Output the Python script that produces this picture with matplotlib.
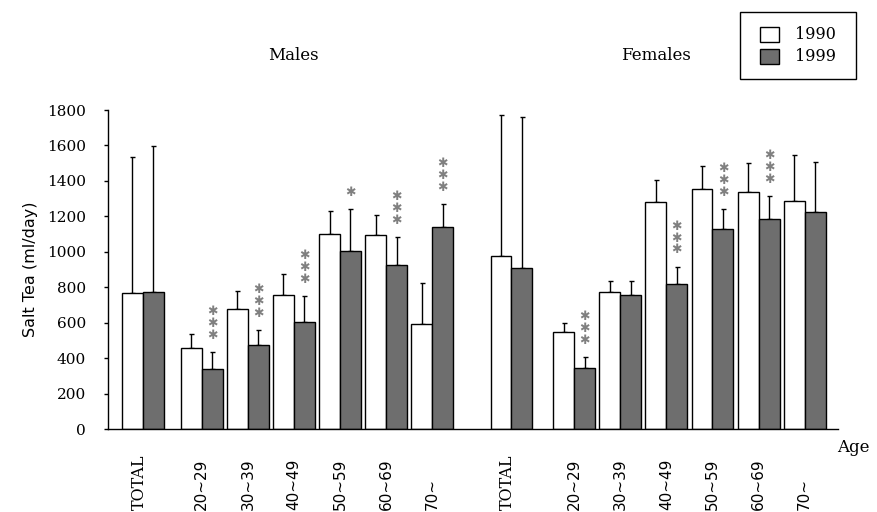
import numpy as np
import matplotlib
matplotlib.use("Agg")
import matplotlib.pyplot as plt
from matplotlib.patches import Rectangle
from matplotlib.transforms import blended_transform_factory

# Salt tea intake (ml/day), means and SDs by sex and age group
groups = ["TOTAL", "20~29", "30~39", "40~49", "50~59", "60~69", "70~"]

male_1990 = [770, 457, 676, 755, 1101, 1097, 592]
male_1990_sd = [763, 78, 102, 122, 130, 111, 231]
male_1999 = [776, 338, 475, 605, 1005, 924, 1140]
male_1999_sd = [821, 99, 85, 148, 235, 158, 130]

female_1990 = [977, 548, 772, 1281, 1353, 1336, 1289]
female_1990_sd = [795, 53, 66, 123, 131, 163, 257]
female_1999 = [909, 347, 755, 819, 1127, 1187, 1223]
female_1999_sd = [853, 62, 83, 98, 113, 126, 282]

# significance of 1990 vs 1999 difference
male_sig = ["", "***", "***", "***", "*", "***", "***"]
female_sig = ["", "***", "", "***", "***", "***", ""]

year_labels = ["1990", "1999"]
dark = "#6e6e6e"

serif = "DejaVu Serif"
sans = "DejaVu Sans"

W, H = 877, 512
fig = plt.figure(figsize=(W / 100, H / 100), dpi=100)
ax = fig.add_axes([108 / W, 82.7 / H, 730 / W, 319.3 / H])

male_pos = np.r_[0.0, 1.28 + np.arange(6)]
female_pos = np.r_[8.0, 9.36 + np.arange(6)]
w = 0.455

def draw_sex(pos, v90, s90, v99, s99, sig):
    x90 = pos - w / 2
    x99 = pos + w / 2
    ax.bar(x90, v90, width=w, color="white", edgecolor="black", linewidth=1.0, zorder=2)
    ax.bar(x99, v99, width=w, color=dark, edgecolor="black", linewidth=1.0, zorder=2)
    for xs, v, s in ((x90, v90, s90), (x99, v99, s99)):
        ax.errorbar(xs, v, yerr=[np.zeros(len(v)), s], fmt="none", ecolor="black",
                    elinewidth=1.0, capsize=1.8, capthick=1.0, zorder=1)
    for x, v, s, mark in zip(x99, v99, s99, sig):
        for i in range(len(mark)):
            ax.annotate("\u2731", xy=(x, v + s), xytext=(0, 12 + i * 8.6),
                        textcoords="offset points", ha="center", va="center",
                        fontsize=9, color="#808080", family=sans,
                        annotation_clip=False)

draw_sex(male_pos, np.array(male_1990), np.array(male_1990_sd),
         np.array(male_1999), np.array(male_1999_sd), male_sig)
draw_sex(female_pos, np.array(female_1990), np.array(female_1990_sd),
         np.array(female_1999), np.array(female_1999_sd), female_sig)

ax.set_xlim(-0.753, 15.083)
ax.set_ylim(0, 1800)
ax.set_yticks(np.arange(0, 1801, 200))
ax.tick_params(axis="y", direction="out", length=3, width=1, pad=13,
               labelsize=11)
for lab in ax.get_yticklabels():
    lab.set_family(serif)
ax.set_xticks([])
for side in ("top", "right"):
    ax.spines[side].set_visible(False)
for side in ("left", "bottom"):
    ax.spines[side].set_linewidth(1.0)

ax.set_ylabel("Salt Tea (ml/day)", family=sans, fontsize=11.5, labelpad=6)

# rotated age-group labels under each pair of bars
trans = blended_transform_factory(ax.transData, ax.transAxes)
for pos in (male_pos, female_pos):
    for x, g in zip(pos, groups):
        fam = serif if g == "TOTAL" else sans
        ax.text(x - (0.08 if g == "TOTAL" else 0), -0.253, g, rotation=90,
                ha="center", va="bottom", transform=trans, family=fam,
                fontsize=11.5 if g == "TOTAL" else 11)

fig.text(837 / W, 1 - 447 / H, "Age", ha="left", va="center",
         family=serif, fontsize=12)
fig.text(293.5 / W, 1 - 55 / H, "Males", ha="center", va="center",
         family=serif, fontsize=12)
fig.text(655.5 / W, 1 - 55 / H, "Females", ha="center", va="center",
         family=serif, fontsize=12)

# boxed key in figure pixel coordinates
def px_rect(x0, y0, x1, y1, **kw):
    return Rectangle((x0 / W, 1 - y1 / H), (x1 - x0) / W, (y1 - y0) / H,
                     transform=fig.transFigure, **kw)

fig.patches.append(px_rect(740, 11.7, 855.7, 79, facecolor="white",
                           edgecolor="black", linewidth=1.0))
for (y0, y1), face, lab in zip([(26.7, 41.7), (49.3, 64.0)],
                               ["white", dark], year_labels):
    fig.patches.append(px_rect(760, y0, 779, y1, facecolor=face,
                               edgecolor="black", linewidth=1.0))
    fig.text(795 / W, 1 - (y0 + y1) / 2 / H, lab, ha="left", va="center",
             family=serif, fontsize=11.5)

fig.savefig("out.png", dpi=100)
